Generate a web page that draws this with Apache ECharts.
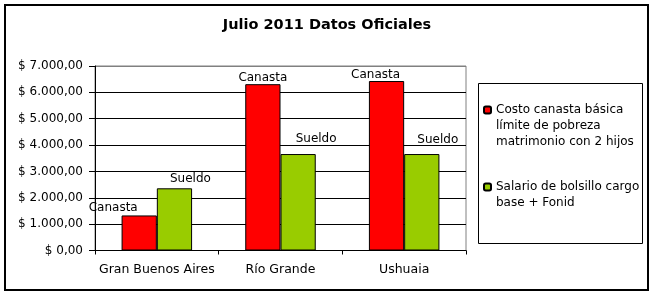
<!DOCTYPE html>
<html>
<head>
<meta charset="utf-8">
<script src="https://cdn.jsdelivr.net/npm/echarts@6/dist/echarts.min.js"></script>
<style>html,body{margin:0;padding:0;background:#fff}#c{width:650px;height:294px}</style>
</head>
<body>
<div id="c"></div>
<script>
const title = 'Julio 2011 Datos Oficiales';
const categories = ['Gran Buenos Aires', 'Río Grande', 'Ushuaia'];
const seriesNames = ['Costo canasta básica\nlímite de pobreza\nmatrimonio con 2 hijos', 'Salario de bolsillo cargo\nbase + Fonid'];
const canastaValues = [1330, 6310, 6430];
const sueldoValues = [2360, 3660, 3660];
const pointLabels = ['Canasta', 'Sueldo'];
const yTicks = [0, 1000, 2000, 3000, 4000, 5000, 6000, 7000];

// label offsets (style only)
const canastaLabelOffsets = [[-26, -2], [0, 0], [-11, 0]];
const sueldoLabelOffsets = [[16, -3], [18, -9], [16, -8]];

function fmtMoney(v) {
  const s = Math.round(v).toString().replace(/\B(?=(\d{3})+(?!\d))/g, '.');
  return '$ ' + s + ',00';
}

const font = 'DejaVu Sans';
const chart = echarts.init(document.getElementById('c'), null, {renderer: 'canvas'});

function buildData(values, offsets) {
  return values.map((v, i) => ({value: v, label: {offset: offsets[i]}}));
}

// legend: put first text line level with the icon
function legendFormatter(name) {
  const n = name.split('\n').length;
  return '\n'.repeat(n - 1) + name;
}

const splitColors = yTicks.map((t, i) => i === yTicks.length - 1 ? '#808080' : '#000');

chart.setOption({
  animation: false,
  backgroundColor: '#fff',
  title: {
    text: title,
    left: 327,
    top: 18,
    textAlign: 'center',
    padding: 0,
    textStyle: {fontFamily: font, fontWeight: 'bold', fontSize: 14.5, color: '#000'}
  },
  grid: {
    left: 95, right: 184, top: 66, bottom: 43.5,
    show: true, borderColor: '#808080', borderWidth: 1, backgroundColor: 'transparent'
  },
  legend: {
    orient: 'vertical',
    left: 483,
    top: 70,
    padding: 0,
    itemWidth: 7,
    itemHeight: 7,
    itemGap: 13,
    formatter: legendFormatter,
    textStyle: {fontFamily: font, fontSize: 12, color: '#000', lineHeight: 16},
    data: seriesNames
  },
  xAxis: {
    type: 'category',
    data: categories,
    axisLine: {lineStyle: {color: '#000', width: 1}},
    axisTick: {show: true, length: 4, alignWithLabel: false, lineStyle: {color: '#000'}},
    axisLabel: {fontFamily: font, fontSize: 12.5, color: '#000', margin: 13, interval: 0, hideOverlap: false}
  },
  yAxis: {
    type: 'value',
    min: 0, max: 7000, interval: 1000,
    axisLine: {show: true, lineStyle: {color: '#000', width: 1}},
    axisTick: {show: true, length: 6, inside: false, lineStyle: {color: '#000'}},
    splitLine: {show: true, lineStyle: {color: splitColors, width: 1}},
    axisLabel: {
      fontFamily: font, fontSize: 12, color: '#000', margin: 12,
      formatter: v => yTicks.includes(v) ? fmtMoney(v) : ''
    }
  },
  series: [
    {
      name: seriesNames[0], type: 'bar',
      data: buildData(canastaValues, canastaLabelOffsets),
      barGap: '0%', barCategoryGap: '43%',
      itemStyle: {color: '#FF0000', borderColor: '#000', borderWidth: 1},
      label: {show: true, position: 'top', distance: 0, formatter: pointLabels[0],
        fontFamily: font, fontSize: 12, color: '#000'}
    },
    {
      name: seriesNames[1], type: 'bar',
      data: buildData(sueldoValues, sueldoLabelOffsets),
      barGap: '0%', barCategoryGap: '43%',
      itemStyle: {color: '#99CC00', borderColor: '#000', borderWidth: 1},
      label: {show: true, position: 'top', distance: 0, formatter: pointLabels[1],
        fontFamily: font, fontSize: 12, color: '#000'}
    }
  ],
  graphic: [
    {type: 'rect', shape: {x: 5, y: 5, width: 643, height: 285}, style: {fill: 'none', stroke: '#000', lineWidth: 2}, silent: true, z: 100},
    {type: 'rect', shape: {x: 478.5, y: 83.5, width: 164, height: 160}, style: {fill: 'none', stroke: '#000', lineWidth: 1}, silent: true, z: 100}
  ]
});
</script>
</body>
</html>
